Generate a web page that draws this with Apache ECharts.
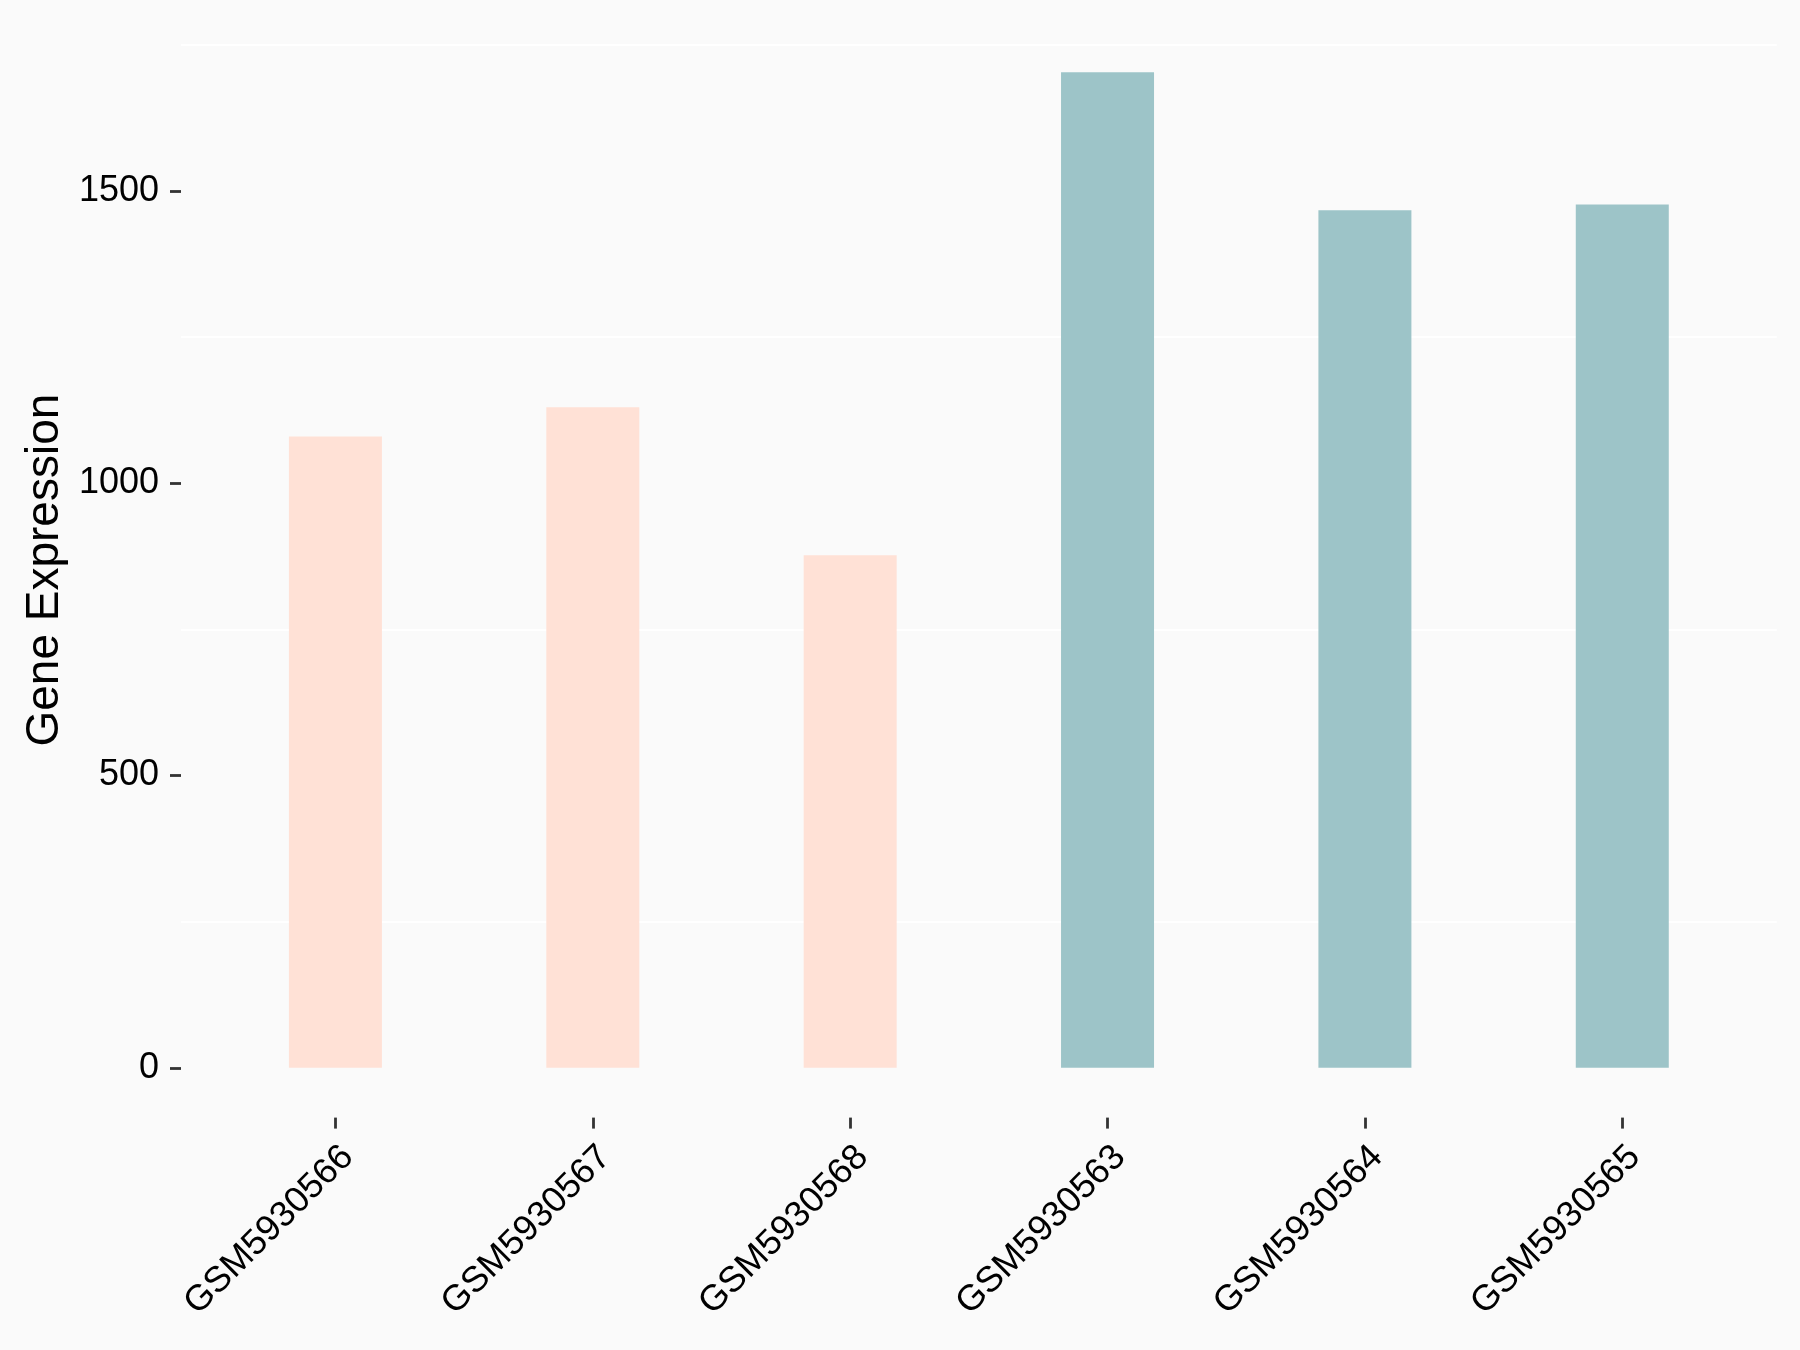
<!DOCTYPE html>
<html>
<head>
<meta charset="utf-8">
<script src="https://cdn.jsdelivr.net/npm/echarts@6/dist/echarts.min.js"></script>
<style>
html,body{margin:0;padding:0;background:#FAFAFA;}
#chart{width:1800px;height:1350px;}
</style>
</head>
<body>
<div id="chart"></div>
<script>
const categories = ['GSM5930566','GSM5930567','GSM5930568','GSM5930563','GSM5930564','GSM5930565'];
const values = [1080, 1130, 877, 1703, 1467, 1477];
const groups = ['A','A','A','B','B','B'];
const yTickValues = [0, 500, 1000, 1500];
const minorGridValues = [250, 750, 1250, 1750];
const yTitle = 'Gene Expression';

const groupColor = { A: '#FFE1D6', B: '#9DC4C8' };
const FONT = '"Liberation Sans", Arial, Helvetica, sans-serif';

const maxV = Math.max(...values);
const pad = maxV * 0.05;

const chart = echarts.init(document.getElementById('chart'), null, {renderer: 'canvas'});
chart.setOption({
  backgroundColor: '#FAFAFA',
  animation: false,
  grid: { left: 181, right: 23.3, top: 22.6, bottom: 232.4, containLabel: false },
  xAxis: {
    type: 'value',
    min: -0.6, max: categories.length - 0.4,
    splitLine: { show: false },
    axisLine: { show: false, onZero: false },
    axisTick: {
      show: true, length: 11,
      customValues: categories.map((c, i) => i),
      lineStyle: { color: '#333333', width: 2.8 }
    },
    axisLabel: {
      customValues: categories.map((c, i) => i + 0.048),
      formatter: v => categories[Math.round(v)],
      rotate: 45, margin: 34,
      fontSize: 36, color: '#000000', fontFamily: FONT
    }
  },
  yAxis: {
    type: 'value',
    min: -pad, max: maxV + pad,
    name: yTitle, nameLocation: 'middle', nameRotate: 90, nameGap: 113,
    nameTextStyle: { fontSize: 46, color: '#000000', fontFamily: FONT },
    splitLine: { show: false },
    axisLine: { show: false, onZero: false },
    axisTick: {
      show: true, length: 11,
      customValues: yTickValues,
      lineStyle: { color: '#333333', width: 2.8 }
    },
    axisLabel: {
      customValues: yTickValues,
      formatter: v => String(v),
      margin: 22,
      fontSize: 36, color: '#000000', fontFamily: FONT
    }
  },
  series: [
    {
      type: 'line', zlevel: 0, z: 0, data: [], silent: true,
      markLine: {
        silent: true, symbol: 'none', animation: false,
        label: { show: false },
        lineStyle: { color: '#FFFFFF', width: 2, type: 'solid' },
        emphasis: { disabled: true },
        data: minorGridValues.map(v => ({ yAxis: v }))
      }
    },
    {
      type: 'bar', zlevel: 1, z: 2, barWidth: 93,
      data: values.map((v, i) => ({ value: [i, v], itemStyle: { color: groupColor[groups[i]] } }))
    }
  ]
});
</script>
</body>
</html>
